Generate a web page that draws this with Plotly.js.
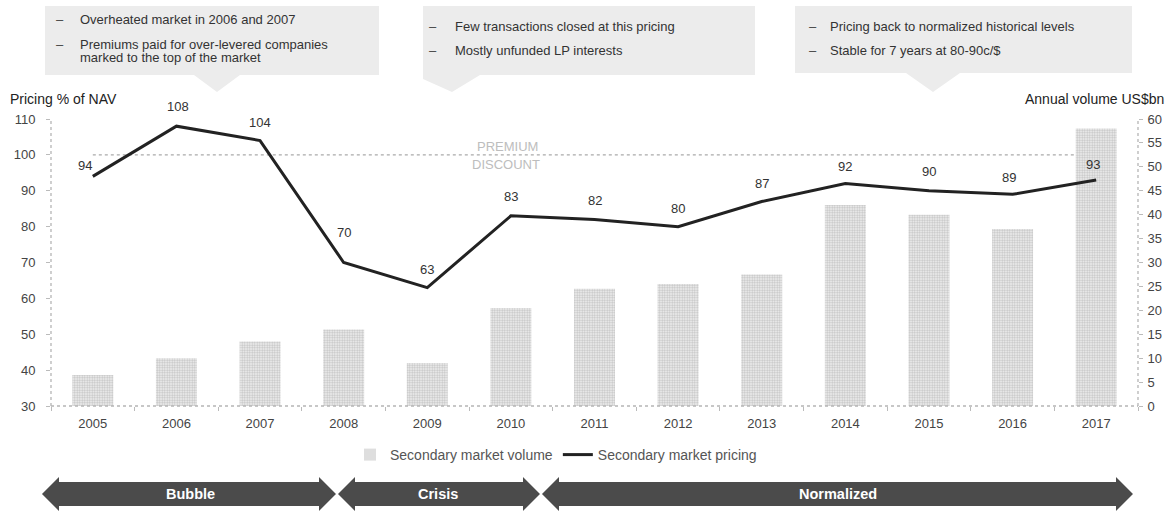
<!DOCTYPE html>
<html>
<head>
<meta charset="utf-8">
<script src="https://cdn.plot.ly/plotly-3.0.1.min.js"></script>
<style>html,body{margin:0;padding:0;background:#fff;}#chart{width:1173px;height:511px;}</style>
</head>
<body>
<div id="chart"></div>
<script>
// ---- data ----
var years = ['2005','2006','2007','2008','2009','2010','2011','2012','2013','2014','2015','2016','2017'];
var volume = [6.5, 10, 13.5, 16, 9, 20.5, 24.5, 25.5, 27.5, 42, 40, 37, 58];
var pricing = [94, 108, 104, 70, 63, 83, 82, 80, 87, 92, 90, 89, 93];
var pricingLabels = ['94','108','104','70','63','83','82','80','87','92','90','89','93'];
var volumeTicks = [0,5,10,15,20,25,30,35,40,45,50,55,60];
var pricingTicks = [30,40,50,60,70,80,90,100,110];
var phases = ['Bubble','Crisis','Normalized'];
var callouts = [
  ['Overheated market in 2006 and 2007', 'Premiums paid for over-levered companies', 'marked to the top of the market'],
  ['Few transactions closed at this pricing', 'Mostly unfunded LP interests'],
  ['Pricing back to normalized historical levels', 'Stable for 7 years at 80-90c/$']
];

// ---- layout helpers (pixel -> paper) ----
var W = 1173, H = 511, ML = 51, MR = 35, MT = 119, MB = 105;
var PW = W - ML - MR, PH = H - MT - MB;
function px(x){ return (x - ML) / PW; }
function py(y){ return (H - MB - y) / PH; }
var FONT = 'Liberation Sans, Arial, sans-serif';

// label offsets (style)
var lblDx = [-8, 2, 0, 0, 0, 0, 0, 0, 0, 0, 0, -4, -3];
var lblDy = [11, 20, 18, 30, 18, 19, 19, 18, 18, 17, 19, 17, 15];

var traces = [
  {
    type: 'bar', name: 'Secondary market volume', x: years, y: volume, yaxis: 'y',
    width: 0.49,
    marker: {color: '#efefef', line: {width: 0},
      pattern: {shape: '.', fgcolor: '#c4c4c4', bgcolor: '#f3f3f3', size: 2.5, solidity: 0.5}},
    hoverinfo: 'skip'
  },
  {
    type: 'scatter', mode: 'lines', name: 'Secondary market pricing', x: years, y: pricing, yaxis: 'y2',
    line: {color: '#222', width: 3}, hoverinfo: 'skip'
  }
];

var annotations = [];
for (var i = 0; i < years.length; i++) {
  annotations.push({x: i, y: pricing[i], xref: 'x', yref: 'y2', text: pricingLabels[i],
    showarrow: false, xshift: lblDx[i], yshift: lblDy[i], font: {family: FONT, size: 13, color: '#333'}});
}
// axis titles
annotations.push({xref: 'paper', yref: 'paper', x: px(8), y: py(99), xanchor: 'left', yanchor: 'middle',
  text: 'Pricing % of NAV', showarrow: false, font: {family: FONT, size: 14, color: '#222'}});
annotations.push({xref: 'paper', yref: 'paper', x: px(1166), y: py(99), xanchor: 'right', yanchor: 'middle',
  text: 'Annual volume US$bn', showarrow: false, font: {family: FONT, size: 14, color: '#222'}});
// premium / discount
annotations.push({xref: 'paper', yref: 'paper', x: px(507), y: py(146), xanchor: 'center', yanchor: 'middle',
  text: 'PREMIUM', showarrow: false, font: {family: FONT, size: 13, color: '#bdbdbd'}});
annotations.push({xref: 'paper', yref: 'paper', x: px(506), y: py(164), xanchor: 'center', yanchor: 'middle',
  text: 'DISCOUNT', showarrow: false, font: {family: FONT, size: 13, color: '#bdbdbd'}});

// callouts
var calloutPos = [
  {dash: 60, tx: 78, ys: [20, 45, 58], bullets: [true, true, false]},
  {dash: 433, tx: 453, ys: [27, 50], bullets: [true, true]},
  {dash: 813, tx: 828, ys: [27, 50], bullets: [true, true]}
];
for (var c = 0; c < callouts.length; c++) {
  var cp = calloutPos[c];
  for (var k = 0; k < callouts[c].length; k++) {
    if (cp.bullets[k]) {
      annotations.push({xref: 'paper', yref: 'paper', x: px(cp.dash), y: py(cp.ys[k]), xanchor: 'center', yanchor: 'middle',
        text: '–', showarrow: false, font: {family: FONT, size: 13, color: '#444'}});
    }
    annotations.push({xref: 'paper', yref: 'paper', x: px(cp.tx), y: py(cp.ys[k]), xanchor: 'left', yanchor: 'middle',
      text: callouts[c][k], showarrow: false, font: {family: FONT, size: 13, color: '#333'}});
  }
}

// phase arrows
var arrowPos = [[42, 336, 190], [338, 540, 438], [542, 1133, 838]];
var shapes = [];
function P(x, y){ return px(x).toFixed(5) + ' ' + py(y).toFixed(5); }
for (var a = 0; a < phases.length; a++) {
  var x0 = arrowPos[a][0], x1 = arrowPos[a][1], h = 17;
  var yt = 477, ybt = 482, ybb = 506, yb = 511, yc = 494;
  var path = 'M ' + P(x0, yc) + ' L ' + P(x0 + h, yt) + ' L ' + P(x0 + h, ybt) + ' L ' + P(x1 - h, ybt) +
    ' L ' + P(x1 - h, yt) + ' L ' + P(x1, yc) + ' L ' + P(x1 - h, yb) + ' L ' + P(x1 - h, ybb) +
    ' L ' + P(x0 + h, ybb) + ' L ' + P(x0 + h, yb) + ' Z';
  shapes.push({type: 'path', xref: 'paper', yref: 'paper', path: path, fillcolor: '#4b4b4b', line: {width: 0}});
  annotations.push({xref: 'paper', yref: 'paper', x: px(arrowPos[a][2]), y: py(494), xanchor: 'center', yanchor: 'middle',
    text: '<b>' + phases[a] + '</b>', showarrow: false, font: {family: FONT, size: 14.5, color: '#fff'}});
}

// callout boxes
var boxes = [
  [[45,6],[379,6],[379,75],[240,75],[217,92],[194,75],[45,75]],
  [[423,6],[755,6],[755,75],[480,75],[452,92],[423,79]],
  [[795,6],[1132,6],[1132,73],[960,73],[933,92],[906,73],[795,73]]
];
boxes.forEach(function(b){
  var s = 'M ' + b.map(function(p){ return P(p[0], p[1]); }).join(' L ') + ' Z';
  shapes.push({type: 'path', xref: 'paper', yref: 'paper', path: s, fillcolor: '#ececec', line: {width: 0}, layer: 'below'});
});

// premium/discount line at 100
shapes.push({type: 'line', xref: 'x', yref: 'y2', x0: 0, x1: 12, y0: 100, y1: 100, layer: 'below',
  line: {color: '#aaa', width: 1.3, dash: 'dot'}});
// dotted axis lines
shapes.push({type: 'line', xref: 'paper', yref: 'paper', x0: 0, x1: 0, y0: 0, y1: 1, line: {color: '#b5b5b5', width: 1.3, dash: 'dot'}});
shapes.push({type: 'line', xref: 'paper', yref: 'paper', x0: 1, x1: 1, y0: 0, y1: 1, line: {color: '#b5b5b5', width: 1.3, dash: 'dot'}});
shapes.push({type: 'line', xref: 'paper', yref: 'paper', x0: 0, x1: 1, y0: 0, y1: 0, line: {color: '#b5b5b5', width: 1.5, dash: 'dot'}});

var layout = {
  width: W, height: H,
  margin: {l: ML, r: MR, t: MT, b: MB, pad: 0},
  paper_bgcolor: '#fff', plot_bgcolor: '#fff',
  font: {family: FONT, size: 13, color: '#444'},
  showlegend: true,
  legend: {orientation: 'h', x: px(556), xanchor: 'center', y: py(455), yanchor: 'middle',
    font: {family: FONT, size: 14, color: '#555'}, bgcolor: 'rgba(0,0,0,0)', traceorder: 'normal'},
  xaxis: {type: 'category', range: [-0.5, 12.5], showgrid: false, zeroline: false, showline: false,
    ticks: 'outside', tickson: 'boundaries', ticklen: 4, tickcolor: '#bbb', ticklabelstandoff: 8,
    tickfont: {family: FONT, size: 13, color: '#444'}, fixedrange: true},
  yaxis: {side: 'right', range: [0, 60], tickvals: volumeTicks, showgrid: false, zeroline: false, showline: false,
    ticks: 'outside', ticklen: 4, tickcolor: '#bbb', ticklabelstandoff: 2, tickfont: {family: FONT, size: 13, color: '#444'}},
  yaxis2: {overlaying: 'y', side: 'left', range: [30, 110], tickvals: pricingTicks, showgrid: false, zeroline: false, showline: false,
    ticks: 'outside', ticklen: 4, tickcolor: '#bbb', ticklabelstandoff: 8, tickfont: {family: FONT, size: 13, color: '#444'}},
  shapes: shapes,
  annotations: annotations
};

Plotly.newPlot('chart', traces, layout, {staticPlot: true, displayModeBar: false});
</script>
</body>
</html>
